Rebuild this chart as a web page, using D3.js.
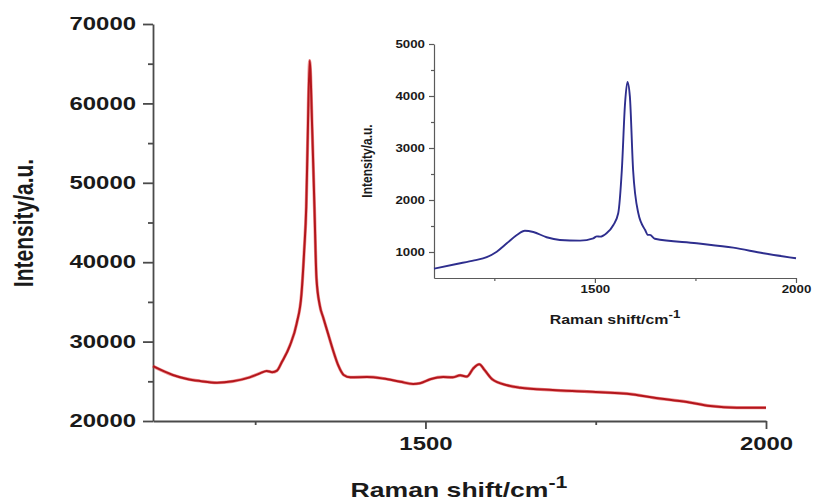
<!DOCTYPE html>
<html>
<head>
<meta charset="utf-8">
<script src="https://cdn.jsdelivr.net/npm/d3@7"></script>
<style>
  html, body { margin: 0; padding: 0; background: #fff; }
  svg { display: block; }
  text { font-family: "Liberation Sans", Arial, sans-serif; font-weight: bold; fill: #1a1a1a; }
</style>
</head>
<body>
<svg id="chart" width="815" height="502"></svg>
<script>
// Raman spectrum (main panel)
const mainShift = [1100, 1129, 1150, 1169, 1194, 1217, 1242, 1257, 1267, 1275, 1282, 1289, 1301, 1311, 1318, 1322, 1325, 1327, 1330, 1334, 1337, 1340, 1345, 1350, 1357, 1364, 1372, 1380, 1390, 1414, 1438, 1463, 1482, 1492, 1507, 1526, 1540, 1551, 1561, 1570, 1579, 1587, 1598, 1620, 1639, 1687, 1737, 1805, 1834, 1884, 1918, 1957, 2000];
const mainIntensity = [26900, 25800, 25300, 25040, 24820, 25000, 25500, 26000, 26300, 26150, 26350, 27400, 29500, 32300, 36000, 41500, 47000, 55000, 65400, 56000, 47000, 38000, 34500, 33000, 31000, 29000, 27000, 25800, 25500, 25550, 25350, 24950, 24660, 24750, 25250, 25550, 25500, 25750, 25600, 26600, 27150, 26400, 25250, 24500, 24200, 23900, 23700, 23350, 22950, 22400, 21900, 21680, 21680];

// Raman spectrum (inset)
const insetShift = [1100, 1156, 1200, 1231, 1256, 1281, 1306, 1326, 1347, 1380, 1413, 1463, 1496, 1505, 1513, 1529, 1546, 1558, 1567, 1575, 1581, 1587, 1595, 1608, 1625, 1632, 1637, 1649, 1753, 1844, 1919, 2000];
const insetIntensity = [680, 770, 840, 900, 1006, 1167, 1327, 1410, 1385, 1283, 1231, 1218, 1264, 1300, 1295, 1360, 1520, 1744, 2577, 3860, 4270, 3987, 2577, 1744, 1423, 1330, 1330, 1255, 1167, 1083, 975, 880];

// Tick values
const mainYTicks = [20000, 30000, 40000, 50000, 60000, 70000];
const mainYMinor = [25000, 35000, 45000, 55000, 65000];
const xTicks = [1500, 2000];
const xMinor = [1250, 1750];
const insetYTicks = [1000, 2000, 3000, 4000, 5000];
const insetYMinor = [1500, 2500, 3500, 4500];

const svg = d3.select("#chart");
const SX = 1.33; // horizontal widening of all lettering

function widen(sel, s) {
  sel.each(function () {
    const t = d3.select(this);
    const x = +t.attr("x") || 0;
    t.attr("x", x / s).attr("transform", `scale(${s},1)`);
  });
}

function styleAxis(g, color, width) {
  g.select(".domain").attr("stroke", color).attr("stroke-width", width);
  g.selectAll(".tick line").attr("stroke", color).attr("stroke-width", width);
}

// ---------- main panel ----------
const x = d3.scaleLinear().domain([1100, 2000]).range([153, 766]);
const y = d3.scaleLinear().domain([20000, 70000]).range([421, 24]);
const axisColor = "#4a4a4a";

// minor ticks
svg.append("g").attr("transform", "translate(153,0)")
  .call(d3.axisLeft(y).tickValues(mainYMinor).tickSize(5).tickSizeOuter(0).tickFormat(""))
  .call(g => { styleAxis(g, axisColor, 1.8); g.select(".domain").remove(); });
svg.append("g").attr("transform", "translate(0,421)")
  .call(d3.axisBottom(x).tickValues(xMinor).tickSize(4).tickSizeOuter(0).tickFormat(""))
  .call(g => { styleAxis(g, axisColor, 1.8); g.select(".domain").remove(); });

const yAxis = svg.append("g").attr("transform", "translate(153,0)")
  .call(d3.axisLeft(y).tickValues(mainYTicks).tickSize(10).tickSizeOuter(0).tickPadding(7).tickFormat(d3.format("d")));
styleAxis(yAxis, axisColor, 1.8);
yAxis.selectAll("text").attr("font-size", 18).attr("fill", "#1a1a1a").call(widen, SX);

const xAxis = svg.append("g").attr("transform", "translate(0,421)")
  .call(d3.axisBottom(x).tickValues(xTicks).tickSize(8).tickSizeOuter(0).tickFormat(d3.format("d")));
styleAxis(xAxis, axisColor, 1.8);
xAxis.selectAll("text").attr("font-size", 18).attr("fill", "#1a1a1a").attr("y", 29).attr("dy", 0).call(widen, SX);

// axis titles
const xt = svg.append("text").attr("text-anchor", "middle")
  .attr("transform", `translate(459,497) scale(${SX},1)`).attr("font-size", 20);
xt.append("tspan").text("Raman shift/cm");
xt.append("tspan").attr("font-size", 16).attr("dy", -9).text("-1");

svg.append("text").attr("text-anchor", "middle")
  .attr("transform", `translate(33,223) rotate(-90) scale(1,${SX})`)
  .attr("font-size", 21).text("Intensity/a.u.");

// spectrum line
const mainLine = d3.line().x((d, i) => x(mainShift[i])).y(d => y(d)).curve(d3.curveMonotoneX);
svg.append("path").datum(mainIntensity)
  .attr("fill", "none").attr("stroke", "#e23a3a").attr("stroke-width", 3.2).attr("opacity", 0.55)
  .attr("d", mainLine);
svg.append("path").datum(mainIntensity)
  .attr("fill", "none").attr("stroke", "#b3161c").attr("stroke-width", 2)
  .attr("stroke-linejoin", "round").attr("d", mainLine);

// ---------- inset ----------
const xi = d3.scaleLinear().domain([1100, 2000]).range([434, 796]);
const yi = d3.scaleLinear().domain([500, 5000]).range([278, 44]);
const insetAxisColor = "#5a5a5a";

svg.append("g").attr("transform", "translate(434,0)")
  .call(d3.axisLeft(yi).tickValues(insetYMinor).tickSize(3).tickSizeOuter(0).tickFormat(""))
  .call(g => { styleAxis(g, insetAxisColor, 1.2); g.select(".domain").remove(); });
svg.append("g").attr("transform", "translate(0,278)")
  .call(d3.axisBottom(xi).tickValues(xMinor).tickSize(3).tickSizeOuter(0).tickFormat(""))
  .call(g => { styleAxis(g, insetAxisColor, 1.2); g.select(".domain").remove(); });

const yiAxis = svg.append("g").attr("transform", "translate(434,0)")
  .call(d3.axisLeft(yi).tickValues(insetYTicks).tickSize(5).tickSizeOuter(0).tickPadding(4).tickFormat(d3.format("d")));
styleAxis(yiAxis, insetAxisColor, 1.2);
yiAxis.selectAll("text").attr("font-size", 10).attr("fill", "#222").call(widen, SX);

const xiAxis = svg.append("g").attr("transform", "translate(0,278)")
  .call(d3.axisBottom(xi).tickValues(xTicks).tickSize(5).tickSizeOuter(0).tickFormat(d3.format("d")));
styleAxis(xiAxis, insetAxisColor, 1.2);
xiAxis.selectAll("text").attr("font-size", 10).attr("fill", "#222").attr("y", 15).attr("dy", 0).call(widen, SX);

const xit = svg.append("text").attr("text-anchor", "middle")
  .attr("transform", `translate(615,324) scale(${SX},1)`).attr("font-size", 12).attr("fill", "#222");
xit.append("tspan").text("Raman shift/cm");
xit.append("tspan").attr("font-size", 10).attr("dy", -6).text("-1");

svg.append("text").attr("text-anchor", "middle")
  .attr("transform", `translate(372,161) rotate(-90) scale(1,1.2)`)
  .attr("font-size", 12).attr("fill", "#222").text("Intensity/a.u.");

const insetLine = d3.line().x((d, i) => xi(insetShift[i])).y(d => yi(d)).curve(d3.curveMonotoneX);
svg.append("path").datum(insetIntensity)
  .attr("fill", "none").attr("stroke", "#2e2e8e").attr("stroke-width", 1.9)
  .attr("stroke-linejoin", "round").attr("d", insetLine);
</script>
</body>
</html>
